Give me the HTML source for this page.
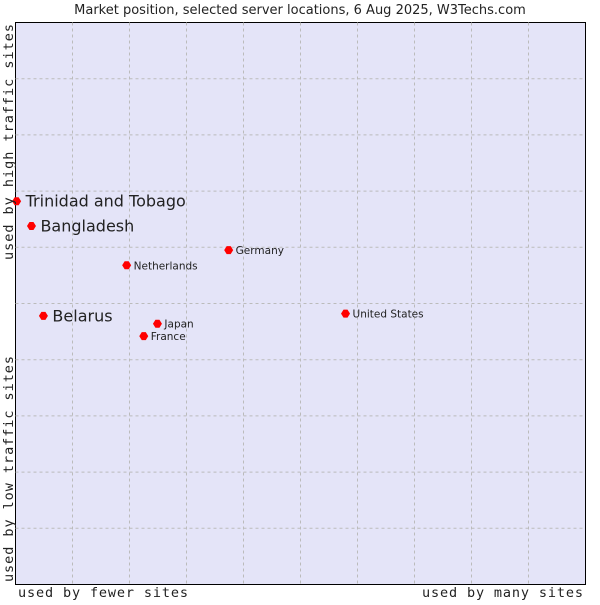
<!DOCTYPE html>
<html><head><meta charset="utf-8"><style>
body{margin:0;background:#fff;width:600px;height:600px;overflow:hidden}
svg text{font-family:"DejaVu Sans","Liberation Sans",sans-serif;fill:#222}
.mono{font-family:"DejaVu Sans Mono","Liberation Mono",monospace}
</style></head><body>
<svg id="chart" width="600" height="600">
<text x="300" y="14" text-anchor="middle" font-size="13">Market position, selected server locations, 6 Aug 2025, W3Techs.com</text>
<rect x="15.5" y="22.5" width="570" height="562" fill="#e4e4f8" stroke="#000"/>
<g id="grid"></g>
<g id="points"></g>
<text class="mono" x="18" y="597" font-size="13.5" textLength="170">used by fewer sites</text>
<text class="mono" x="422" y="597" font-size="13.5" textLength="161">used by many sites</text>
<text class="mono" transform="translate(13,260) rotate(-90)" font-size="13.5" textLength="236">used by high traffic sites</text>
<text class="mono" transform="translate(13,582) rotate(-90)" font-size="13.5" textLength="226">used by low traffic sites</text>
</svg>
<script>
const names=["Trinidad and Tobago","Bangladesh","Belarus","Netherlands","Germany","Japan","France","United States"];
const xVals=[0.2,2.8,4.9,19.5,37.4,24.9,22.5,57.9];
const yVals=[68.2,63.8,47.8,56.8,59.5,46.4,44.2,48.2];
const bigLabel=[true,true,true,false,false,false,false,false];
const X0=15.5,X1=585.5,Y0=584.5,Y1=22.5;
const sx=v=>X0+(X1-X0)*v/100, sy=v=>Y0-(Y0-Y1)*v/100;
const ns="http://www.w3.org/2000/svg";
const g=document.getElementById('grid');
for(let i=1;i<10;i++){
 const l=document.createElementNS(ns,'line');
 
 
 const x=sx(i*10);l.setAttribute('x1',x);l.setAttribute('x2',x);l.setAttribute('y1',Y1);l.setAttribute('y2',Y0);
 l.setAttribute('stroke','#bbb');l.setAttribute('stroke-dasharray','3,3');g.appendChild(l);
 const h=document.createElementNS(ns,'line');
 
 
 const y=sy(i*10);h.setAttribute('y1',y);h.setAttribute('y2',y);h.setAttribute('x1',X0);h.setAttribute('x2',X1);
 h.setAttribute('stroke','#bbb');h.setAttribute('stroke-dasharray','3,3');g.appendChild(h);
}
const p=document.getElementById('points');
names.forEach((n,i)=>{
 const x=sx(xVals[i]),y=sy(yVals[i]);
 const d=document.createElementNS(ns,'path');
 
 
 d.setAttribute('d',`M${x-4.5},${y} L${x-2},${y-4} L${x+2},${y-4} L${x+4.5},${y} L${x+2},${y+4} L${x-2},${y+4} Z`);
 d.setAttribute('fill','#f00');p.appendChild(d);
 const t=document.createElementNS(ns,'text');
 
 
 const big=bigLabel[i];
 t.setAttribute('x',x+(big?9:7));t.setAttribute('y',y+(big?5.5:4));
 t.setAttribute('font-size',big?16:10.5);t.textContent=n;p.appendChild(t);
});
</script>
</body></html>
